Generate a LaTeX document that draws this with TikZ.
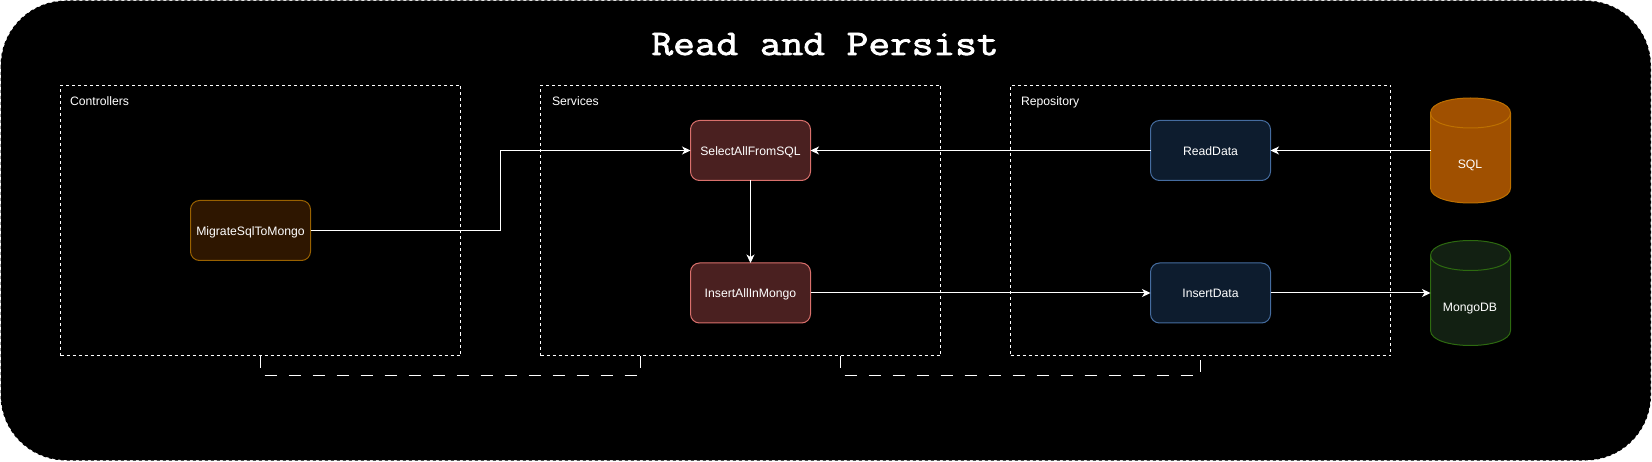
\documentclass[tikz,border=0pt]{standalone}
\usepackage{fontspec}
\setmainfont{Liberation Sans}
\newfontfamily\titlefont[FakeBold=2.2,FakeStretch=1.17]{Latin Modern Mono}
\usetikzlibrary{arrows.meta}
\definecolor{ctrlfill}{HTML}{2E1600}
\definecolor{ctrlline}{HTML}{996100}
\definecolor{svcfill}{HTML}{4A2020}
\definecolor{svcline}{HTML}{D9706C}
\definecolor{repofill}{HTML}{0D1C2E}
\definecolor{repoline}{HTML}{456C9F}
\definecolor{sqlfill}{HTML}{A05000}
\definecolor{sqlline}{HTML}{BD7000}
\definecolor{mongofill}{HTML}{122012}
\definecolor{mongoline}{HTML}{2D6A10}
\tikzset{
  every node/.style={font=\fontsize{12.2}{14}\selectfont,text=white,inner sep=0pt,outer sep=0pt,text height=10pt,text depth=0pt},
  groupbox/.style={draw=white,line width=1pt,dash pattern=on 3pt off 3pt,minimum width=#1,minimum height=270pt},
  grouplabel/.style={anchor=west},
  opbox/.style={rounded corners=9pt,line width=1pt,minimum width=120pt,minimum height=60pt,align=center},
  ctrlbox/.style={opbox,draw=ctrlline,fill=ctrlfill},
  svcbox/.style={opbox,draw=svcline,fill=svcfill},
  repobox/.style={opbox,draw=repoline,fill=repofill},
  dbanchor/.style={minimum width=80pt,minimum height=105pt},
  dbshape/.style={line width=1pt},
  flow/.style={draw=white,line width=1pt,-{Stealth[length=8.5pt,width=8pt,inset=2.5pt,fill=white]}},
  link/.style={draw=white,line width=1pt,dash pattern=on 12pt off 12pt},
}
\newcommand{\dbdraw}[4]{% x y fill line
  \begin{scope}[shift={(#1,#2)}]
    \draw[dbshape,draw=#4,fill=#3] (0,15) .. controls (0,-5) and (80,-5) .. (80,15) -- (80,90)
      .. controls (80,110) and (0,110) .. (0,90) -- cycle;
    \draw[dbshape,draw=#4] (0,15) .. controls (0,35) and (80,35) .. (80,15);
  \end{scope}}
\begin{document}
\begin{tikzpicture}[x=1pt,y=-1pt]
\useasboundingbox (0,0) rectangle (1652,462);
\fill[white] (0,0) rectangle (1652,462);
\draw[black,fill=black,line width=1pt,dash pattern=on 3pt off 3pt,rounded corners=65pt] (1,1) rectangle (1650.5,460);

\node[font=\titlefont\fontsize{36}{40}\selectfont,text height=22pt,text depth=0pt] (title) at (825,44) {Read and Persist};

\node[groupbox=400pt] (controllers) at (260.5,220.5) {};
\node[groupbox=400pt] (services) at (740.5,220.5) {};
\node[groupbox=380pt] (repository) at (1200.5,220.5) {};
\node[grouplabel] (lblc) at (70,100.5) {Controllers};
\node[grouplabel] (lbls) at (552,100.5) {Services};
\node[grouplabel] (lblr) at (1021,100.5) {Repository};

\coordinate (svcL) at (640.5,355.5);
\coordinate (svcR) at (840.5,355.5);
\draw[link] (controllers.south) -- ++(0,20) -| (svcL);
\draw[link] (svcR) -- ++(0,20) -| (repository.south);

\node[ctrlbox] (migrate) at (250.5,230.5) {MigrateSqlToMongo};
\node[svcbox] (select) at (750.5,150.5) {SelectAllFromSQL};
\node[svcbox] (insertall) at (750.5,293) {InsertAllInMongo};
\node[repobox] (read) at (1210.5,150.5) {ReadData};
\node[repobox] (insert) at (1210.5,293) {InsertData};

\dbdraw{1430.5}{98}{sqlfill}{sqlline}
\dbdraw{1430.5}{240.5}{mongofill}{mongoline}
\node[dbanchor] (sql) at (1470.5,150.5) {};
\node[dbanchor] (mongo) at (1470.5,293) {};
\node (sqltext) at (1470,163.2) {SQL};
\node (mongotext) at (1470,306.5) {MongoDB};

\draw[flow] (migrate.east) -- (500.5,230.5) |- (select.west);
\draw[flow] (read.west) -- (select.east);
\draw[flow] (select.south) -- (insertall.north);
\draw[flow] (sql.west) -- (read.east);
\draw[flow] (insertall.east) -- (insert.west);
\draw[flow] (insert.east) -- (mongo.west);
\end{tikzpicture}
\end{document}
